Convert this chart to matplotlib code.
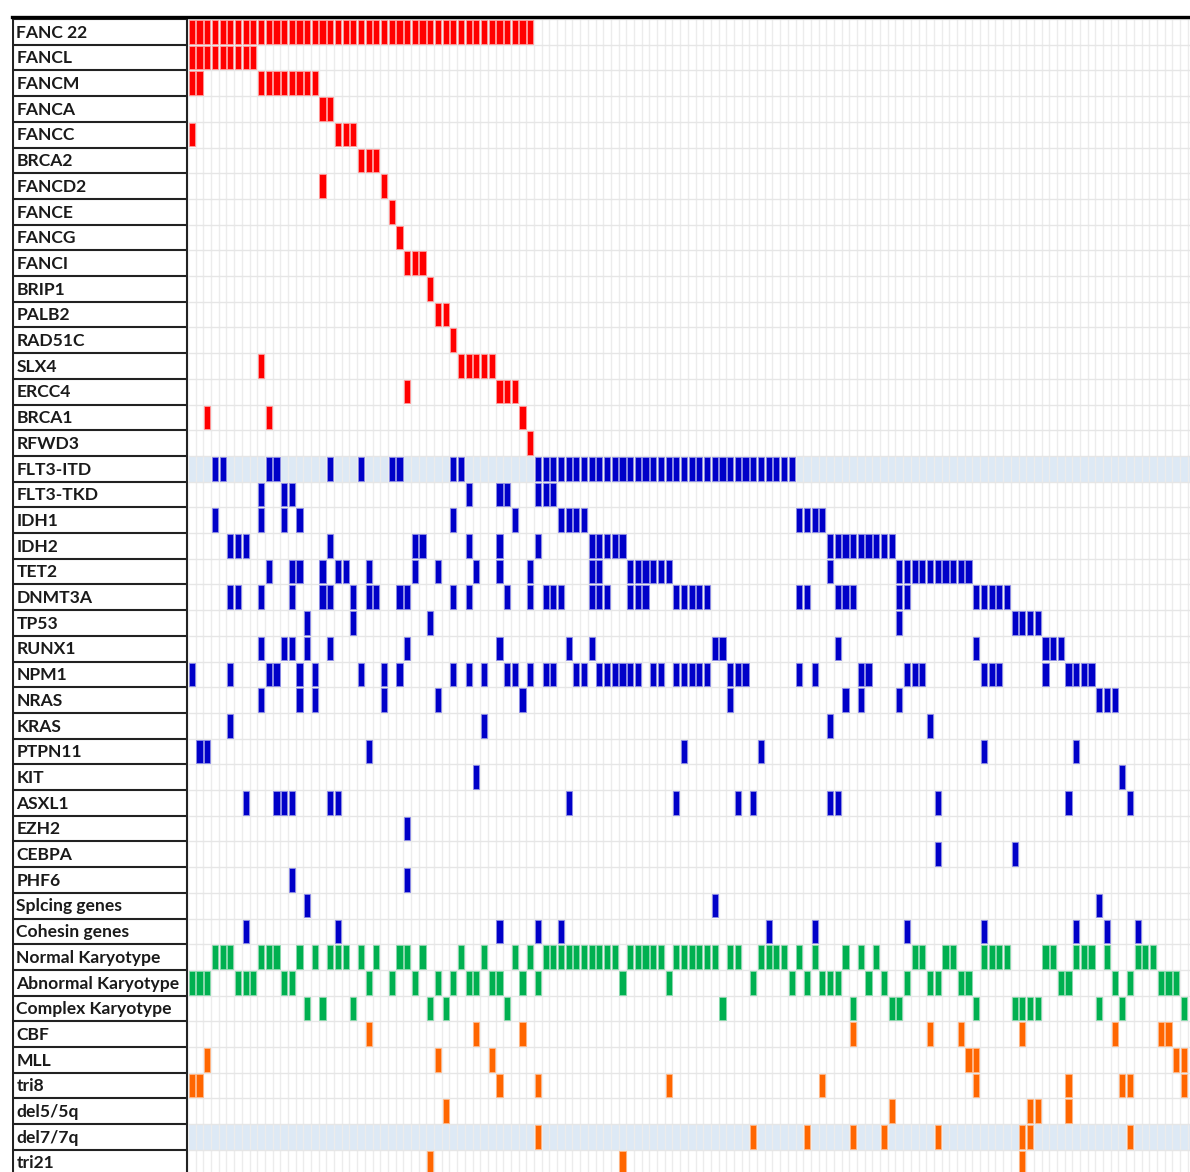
import matplotlib.pyplot as plt
from matplotlib.patches import Rectangle

plt.rcParams['font.family'] = ['Lato', 'DejaVu Sans']

# patients are columns, runs written as "a-b"
fanc_genes = ['FANC 22', 'FANCL', 'FANCM', 'FANCA', 'FANCC', 'BRCA2', 'FANCD2',
              'FANCE', 'FANCG', 'FANCI', 'BRIP1', 'PALB2', 'RAD51C', 'SLX4',
              'ERCC4', 'BRCA1', 'RFWD3']
fanc_hits = ['0-44', '0-8', '0-1 9-16', '17-18', '0 19-21', '22-24', '17 25',
             '26', '27', '28-30', '31', '32-33', '34', '9 35-39', '28 40-42',
             '2 10 43', '44']

myeloid_genes = ['FLT3-ITD', 'FLT3-TKD', 'IDH1', 'IDH2', 'TET2', 'DNMT3A', 'TP53',
                 'RUNX1', 'NPM1', 'NRAS', 'KRAS', 'PTPN11', 'KIT', 'ASXL1', 'EZH2',
                 'CEBPA', 'PHF6', 'Splcing genes', 'Cohesin genes']
myeloid_hits = [
    '3-4 10-11 18 22 26-27 34-35 45-78',
    '9 12-13 36 40-41 45-47',
    '3 9 12 14 34 42 48-51 79-82',
    '5-7 18 29-30 36 40 45 52-56 83-91',
    '10 13-14 17 19-20 23 29 32 37 40 44 52-53 57-62 83 92-101',
    '5-6 9 13 17-18 21 23-24 27-28 34 36 41 44 46-48 52-54 57-59 63-67 79-80 '
    '84-86 92-93 102-106',
    '15 21 31 92 107-110',
    '9 12-13 15 18 28 40 49 52 68-69 84 102 111-113',
    '0 5 10-11 14 16 22 25 27 34 36 38 41-42 44 46-47 50-51 53-58 60-61 63-67 '
    '70-72 79 81 87-88 93-95 103-105 111 114-117',
    '9 14 16 25 32 43 70 85 87 92 118-120',
    '5 38 83 96',
    '1-2 23 64 74 103 115',
    '37 121',
    '7 11-13 18-19 49 63 71 73 83-84 97 114 122',
    '28',
    '97 107',
    '13 28',
    '15 68 118',
    '7 19 40 45 48 75 81 93 103 115 119 123',
]

karyo_genes = ['Normal Karyotype', 'Abnormal Karyotype', 'Complex Karyotype']
karyo_hits = [
    '3-5 9-11 14 16 18-20 22 24 27-28 30 35 38 42 44 46-55 57-61 63-68 70-71 '
    '74-77 79 81 85 87 89 94-95 98-99 103-106 111-112 115-117 119 123-125',
    '0-2 6-8 12-13 23 26 29 32 34 36-37 39-40 43 45 56 62 73 78 80 82-84 88 90 '
    '93 96-97 100-101 113-114 120 122 126-128',
    '15 17 21 31 33 41 69 86 91-92 102 107-110 118 121 129',
]

cyto_genes = ['CBF', 'MLL', 'tri8', 'del5/5q', 'del7/7q', 'tri21']
cyto_hits = [
    '23 37 43 86 96 100 108 120 126-127',
    '2 32 39 101-102 128-129',
    '0-1 40 45 62 82 102 114 121-122 129',
    '33 91 109-110 114',
    '45 73 80 86 90 97 108-109 122',
    '31 56 108',
]

shaded_rows = ['FLT3-ITD', 'del7/7q']
n_cols = 131


def parse(spec):
    cols = []
    for tok in spec.split():
        if '-' in tok:
            a, b = tok.split('-')
            cols.extend(range(int(a), int(b) + 1))
        else:
            cols.append(int(tok))
    return cols


groups = [
    (fanc_genes, fanc_hits, '#ff0000', '#ff9a9a'),
    (myeloid_genes, myeloid_hits, '#0000c8', '#8c8ce6'),
    (karyo_genes, karyo_hits, '#00b050', '#8ad9ad'),
    (cyto_genes, cyto_hits, '#ff6600', '#ffb787'),
]

rows = []
for genes, hits, fc, ec in groups:
    for g, h in zip(genes, hits):
        rows.append((g, parse(h), fc, ec))
n_rows = len(rows)

W, H = 1190, 1172
top = 19
row_px = 25.7
grid_h = row_px * n_rows
fig = plt.figure(figsize=(W / 100, H / 100), dpi=100)
ax = fig.add_axes([188 / W, (H - top - grid_h) / H, 1 - 188 / W, grid_h / H])
lax = fig.add_axes([12 / W, (H - top - grid_h) / H, 176 / W, grid_h / H])

for r, (g, cols, fc, ec) in enumerate(rows):
    if g in shaded_rows:
        ax.add_patch(Rectangle((0, r), n_cols, 1, color='#dde9f5', lw=0, zorder=0))
    for c in cols:
        ax.add_patch(Rectangle((c + 0.1, r + 0.04), 0.8, 0.92, facecolor=fc,
                               edgecolor=ec, lw=0.6, zorder=3))

# light cell grid
ax.vlines(range(n_cols + 1), 0, n_rows, color='#ececec', lw=1.0, zorder=1)
ax.hlines(range(n_rows + 1), 0, n_cols, color='#e6e6e6', lw=1.0, zorder=1)

ax.set_xlim(0, 130.3)
ax.set_ylim(n_rows, 0)
ax.axis('off')

# label column with black box lines
lax.set_xlim(0, 1)
lax.set_ylim(n_rows, 0)
lax.axis('off')
lax.hlines(range(n_rows + 1), 0, 1, color='#222222', lw=1.5)
lax.vlines([0.003, 0.997], 0, n_rows, color='#222222', lw=1.5)
for r, (g, *_rest) in enumerate(rows):
    lax.text(0.025, r + 0.53, g, ha='left', va='center', fontsize=12.6,
             fontweight='bold', color='#1a1a1a')

# heavy rule along the top
fig.add_artist(plt.Line2D([12 / W, 1], [1 - 17 / H, 1 - 17 / H], color='black',
                          lw=2.4, transform=fig.transFigure))

fig.savefig('out.png', dpi=100)
